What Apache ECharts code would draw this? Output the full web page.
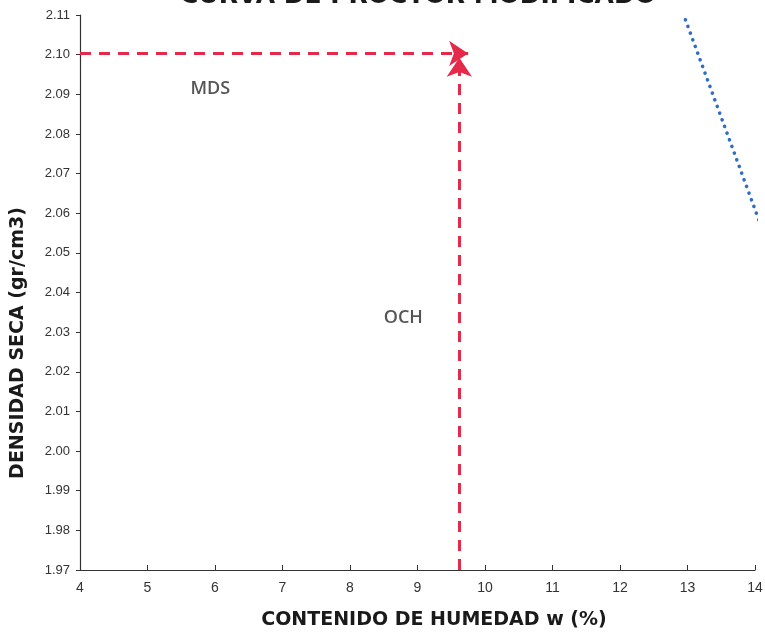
<!DOCTYPE html>
<html><head><meta charset="utf-8">
<script src="https://cdn.jsdelivr.net/npm/echarts@6/dist/echarts.min.js"></script>
<style>html,body{margin:0;padding:0;background:#fff}#c{width:765px;height:632px}</style>
</head><body><div id="c"></div>
<script>
const titleText = "CURVA DE PROCTOR MODIFICADO";
const xAxisName = "CONTENIDO DE HUMEDAD w (%)";
const yAxisName = "DENSIDAD SECA (gr/cm3)";
const xRange = [4, 14];
const yRange = [1.97, 2.11];
const OCH = 9.62;          // optimum moisture content (%)
const MDS = 2.1003;        // max dry density
const arrowTipX = 9.75;
const arrowTipY = 2.0992;
const saturationLine = [[12.97, 2.1088], [14.07, 2.0577]];
const labels = [{ name: "MDS", x: 5.93, y: 2.0913 }, { name: "OCH", x: 8.79, y: 2.0335 }];

const chart = echarts.init(document.getElementById('c'));
chart.setOption({
  animation: false,
  graphic: [
    { type: 'text', x: 418, y: -4,
      style: { text: titleText, font: 'bold 25px "DejaVu Sans"', fill: '#1a1a1a', align: 'center', verticalAlign: 'middle' } },
    { type: 'text', x: 434, y: 620,
      style: { text: xAxisName, font: 'bold 19px "DejaVu Sans"', fill: '#1a1a1a', align: 'center', verticalAlign: 'middle' } },
    { type: 'text', x: 18, y: 343, rotation: Math.PI / 2,
      style: { text: yAxisName, font: 'bold 19px "DejaVu Sans"', fill: '#1a1a1a', align: 'center', verticalAlign: 'middle' } }
  ],
  grid: { left: 80, right: 10, top: 15, bottom: 62, outerBoundsMode: 'none', containLabel: false },
  xAxis: {
    type: 'value', min: xRange[0], max: xRange[1], interval: 1,
    axisLine: { lineStyle: { color: '#333', width: 1.2 } },
    axisTick: { inside: true, length: 5, lineStyle: { color: '#333' } },
    axisLabel: { fontFamily: 'Liberation Sans', fontSize: 14, color: '#333', margin: 11 },
    splitLine: { show: false }
  },
  yAxis: {
    type: 'value', min: yRange[0], max: yRange[1], interval: 0.01,
    axisLine: { show: true, lineStyle: { color: '#333', width: 1.2 } },
    axisTick: { show: true, length: 4, lineStyle: { color: '#333' } },
    axisLabel: { fontFamily: 'Liberation Sans', fontSize: 13, color: '#333', margin: 10,
      formatter: v => v.toFixed(2) },
    splitLine: { show: false }
  },
  series: [
    {
      type: 'lines', coordinateSystem: 'cartesian2d', clip: false,
      symbol: ['none', 'arrow'], symbolSize: 19,
      lineStyle: { color: '#e5294a', width: 3, type: [11, 8], opacity: 1 },
      data: [
        { coords: [[xRange[0], MDS], [arrowTipX, MDS]] },
        { coords: [[OCH, yRange[0]], [OCH, arrowTipY]] }
      ]
    },
    {
      type: 'line', clip: false, showSymbol: false, symbol: 'none',
      data: saturationLine,
      lineStyle: { color: '#2f6cc3', width: 3.5, type: [0.1, 7], cap: 'round' }
    },
    {
      type: 'scatter', symbolSize: 0,
      data: labels.map(l => ({ value: [l.x, l.y], name: l.name })),
      label: { show: true, position: 'inside', formatter: p => p.name,
        fontFamily: 'Open Sans', fontWeight: 600, fontSize: 18, color: '#2a2a2a' }
    }
  ]
});
</script></body></html>
